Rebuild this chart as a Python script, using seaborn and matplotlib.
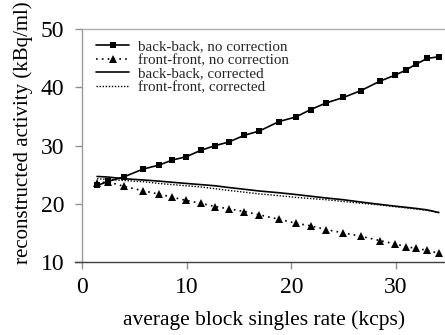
import matplotlib
matplotlib.use("Agg")
import matplotlib.pyplot as plt
import seaborn as sns
import numpy as np
import pandas as pd

sns.set_theme(style="white")
plt.rcParams['font.family'] = ['Liberation Serif', 'DejaVu Serif']

# Data
rate = [1.41, 2.46, 4.02, 5.81, 7.34, 8.61, 9.95, 11.33, 12.70, 14.01, 15.50, 16.94,
        18.82, 20.42, 21.86, 23.32, 24.98, 26.67, 28.49, 29.92, 30.95, 31.93, 33.01, 34.11]
bb_nocorr = [23.15, 23.84, 24.66, 25.97, 26.66, 27.52, 28.10, 29.19, 30.00, 30.62, 31.78, 32.52,
             34.14, 34.93, 36.21, 37.34, 38.28, 39.48, 41.09, 42.12, 42.98, 44.02, 45.00, 45.28]
ff_nocorr = [23.55, 23.80, 22.98, 22.24, 21.66, 21.14, 20.57, 20.10, 19.53, 19.14, 18.67, 18.10,
             17.34, 16.66, 16.21, 15.57, 15.00, 14.41, 13.67, 13.10, 12.64, 12.34, 12.00, 11.48]
bb_corr = [24.7, 24.6, 24.3, 24.1, 23.9, 23.7, 23.5, 23.3, 23.1, 22.8, 22.5, 22.2,
           21.9, 21.6, 21.3, 21.0, 20.7, 20.3, 19.9, 19.6, 19.4, 19.2, 18.95, 18.5]
ff_corr = [24.3, 24.2, 24.0, 23.8, 23.5, 23.3, 23.1, 22.9, 22.6, 22.3, 22.0, 21.7,
           21.4, 21.1, 20.9, 20.7, 20.4, 20.1, 19.8, 19.5, 19.3, 19.1, 18.85, 18.5]
labels = ["back-back, no correction", "front-front, no correction",
          "back-back, corrected", "front-front, corrected"]
xticks = [0, 10, 20, 30]
yticks = [10, 20, 30, 40, 50]

fig = plt.figure(figsize=(4.45, 3.35), dpi=100)
ax = fig.add_axes([0.185, 0.218, 0.815, 0.6945])

sns.lineplot(x=rate, y=bb_nocorr, ax=ax, color='black', lw=1.2, marker='s',
             markersize=5, markeredgewidth=0, sort=False, label=labels[0])
sns.lineplot(x=rate, y=ff_nocorr, ax=ax, color='black', lw=1.2, marker='^',
             markersize=6, markeredgewidth=0, sort=False, label=labels[1])
sns.lineplot(x=rate, y=bb_corr, ax=ax, color='black', lw=1.2, sort=False, label=labels[2])
sns.lineplot(x=rate, y=ff_corr, ax=ax, color='black', lw=1.2, sort=False, label=labels[3])

lines = ax.get_lines()
lines[1].set_linestyle((0, (1, 2.5)))
lines[3].set_linestyle((0, (1, 1.2)))
lines[3].set_linewidth(1.0)

ax.set_xlim(0, 34.7)
ax.set_ylim(10, 50)
ax.set_xticks(xticks)
ax.set_yticks(yticks)
ax.tick_params(axis='both', labelsize=17, colors='black', direction='out', length=5,
               width=1, left=True, bottom=True)
ax.tick_params(axis='both', which='major', color='#909090')
ax.tick_params(axis='y', pad=8)
ax.tick_params(axis='x', pad=6)

ax.spines['right'].set_visible(False)
ax.spines['left'].set_color('#9a9a9a')
ax.spines['top'].set_color('#b0b0b0')
ax.spines['bottom'].set_color('#404040')
ax.spines['bottom'].set_bounds(-0.7, 34.7)
for s in ['left', 'top', 'bottom']:
    ax.spines[s].set_linewidth(1.0)

ax.set_xlabel("average block singles rate (kcps)", fontsize=15.5, color='black', labelpad=9)
ax.set_ylabel("reconstructed activity (kBq/ml)", fontsize=15, color='black')
ax.yaxis.set_label_coords(-0.135, 0.555)

leg = ax.legend(loc='upper left', frameon=False, fontsize=10.8, handlelength=2.2,
                handletextpad=0.6, labelspacing=0.0, borderaxespad=0.3,
                bbox_to_anchor=(0.01, 1.0))

fig.savefig("out.png", dpi=100)
